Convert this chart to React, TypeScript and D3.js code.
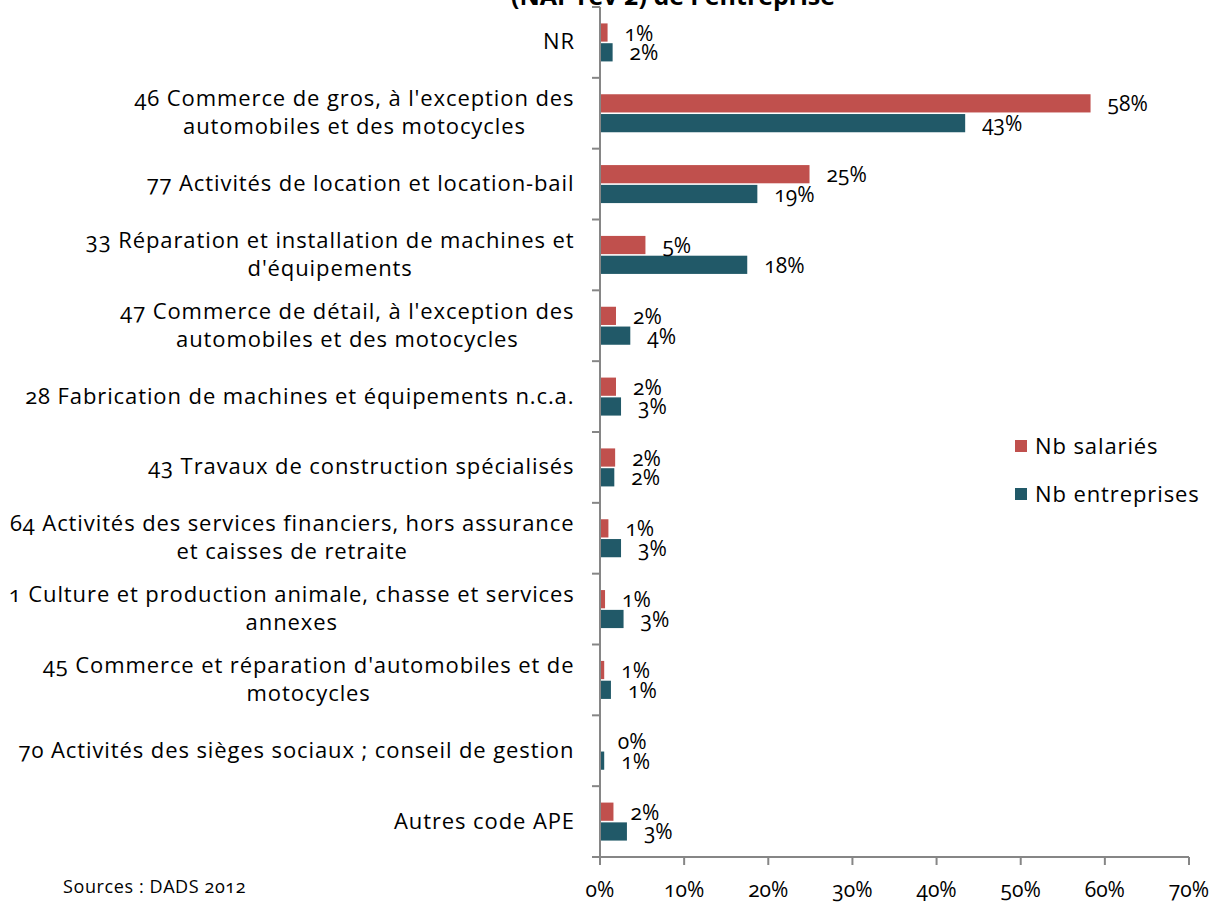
import * as d3 from 'd3';

const categories = [
  ['NR'],
  ["46 Commerce de gros, à l'exception des", 'automobiles et des motocycles'],
  ['77 Activités de location et location-bail'],
  ['33 Réparation et installation de machines et', "d'équipements"],
  ["47 Commerce de détail, à l'exception des", 'automobiles et des motocycles'],
  ['28 Fabrication de machines et équipements n.c.a.'],
  ['43 Travaux de construction spécialisés'],
  ['64 Activités des services financiers, hors assurance', 'et caisses de retraite'],
  ['1 Culture et production animale, chasse et services', 'annexes'],
  ["45 Commerce et réparation d'automobiles et de", 'motocycles'],
  ['70 Activités des sièges sociaux ; conseil de gestion'],
  ['Autres code APE'],
];
const salaries = [0.9, 58.3, 24.9, 5.4, 1.9, 1.9, 1.8, 1.0, 0.6, 0.5, 0.1, 1.6];
const entreprises = [1.5, 43.4, 18.7, 17.5, 3.6, 2.5, 1.7, 2.5, 2.8, 1.3, 0.5, 3.2];
const salariesLabels = ['1%', '58%', '25%', '5%', '2%', '2%', '2%', '1%', '1%', '1%', '0%', '2%'];
const entreprisesLabels = ['2%', '43%', '19%', '18%', '4%', '3%', '2%', '3%', '3%', '1%', '1%', '3%'];
const xTicks = [0, 10, 20, 30, 40, 50, 60, 70];
const seriesNames = ['Nb salariés', 'Nb entreprises'];

const RED = '#C0504D';
const TEAL = '#215968';
const AXIS = '#868686';
const FONT = '"Open Sans", sans-serif';
const LABEL_SIZE = 22;
const SPACING = 0.9;

const measureCtx = typeof document !== 'undefined' ? document.createElement('canvas').getContext('2d') : null;
function textWidth(s: string, size: number) {
  if (!measureCtx) return s.length * (size * 0.55 + SPACING);
  measureCtx.font = `${size}px "Open Sans"`;
  return measureCtx.measureText(s).width + s.length * SPACING;
}

export default function App() {
  const width = 1218;
  const height = 905;
  const left = 600;
  const right = 1189;
  const top = 7;
  const bottom = 857;

  const x = d3.scaleLinear().domain([0, 70]).range([left, right]);
  const idx = categories.map((_, i) => String(i));
  const y = d3.scaleBand().domain(idx).range([top, bottom]);
  const inner = d3.scaleBand().domain(['s', 'e']).range([0, 38]).paddingInner(0.08);
  const bw = inner.bandwidth();
  const groupOffset = (y.bandwidth() - 38) / 2;

  return (
    <div>
      <style>{'body{margin:0}'}</style>
      <svg width={width} height={height} style={{ display: 'block', fontFamily: FONT, fontVariantNumeric: 'oldstyle-nums' }}>
        <rect width={width} height={height} fill="#fff" />
        <text x={673} y={5} textAnchor="middle" fontSize={25} fontWeight="bold" fill="#000">
          (NAF rev 2) de l'entreprise
        </text>

        {categories.map((lines, i) => {
          const y0 = (y(String(i)) as number) + groupOffset;
          const cy = (y(String(i)) as number) + y.bandwidth() / 2;
          const maxW = d3.max(lines, (l) => textWidth(l, LABEL_SIZE)) as number;
          const cx = 575 - maxW / 2;
          const lh = 28;
          return (
            <g key={i}>
              <rect x={x(0)} y={y0 + (inner('s') as number)} width={x(salaries[i]) - x(0)} height={bw} fill={RED} />
              <rect x={x(0)} y={y0 + (inner('e') as number)} width={x(entreprises[i]) - x(0)} height={bw} fill={TEAL} />
              <text x={x(salaries[i]) + 17} y={y0 + (inner('s') as number) + bw / 2 + 8} fontSize={21} fill="#000">
                {salariesLabels[i]}
              </text>
              <text x={x(entreprises[i]) + 17} y={y0 + (inner('e') as number) + bw / 2 + 8} fontSize={21} fill="#000">
                {entreprisesLabels[i]}
              </text>
              {lines.map((l, j) => (
                <text
                  key={j}
                  x={cx}
                  y={cy + (j - (lines.length - 1) / 2) * lh + 7}
                  textAnchor="middle"
                  fontSize={LABEL_SIZE}
                  letterSpacing={SPACING}
                  fill="#000"
                >
                  {l}
                </text>
              ))}
            </g>
          );
        })}

        {/* y axis */}
        <line x1={left} x2={left} y1={top} y2={bottom} stroke={AXIS} strokeWidth={2} />
        {d3.range(categories.length + 1).map((i) => {
          const yy = i < categories.length ? (y(String(i)) as number) : bottom;
          return <line key={i} x1={left - 8} x2={left} y1={yy} y2={yy} stroke={AXIS} strokeWidth={2} />;
        })}

        {/* x axis */}
        <line x1={left - 8} x2={right} y1={bottom} y2={bottom} stroke={AXIS} strokeWidth={2} />
        {xTicks.map((t) => (
          <g key={t}>
            <line x1={x(t)} x2={x(t)} y1={bottom} y2={bottom + 8} stroke={AXIS} strokeWidth={2} />
            <text x={x(t)} y={bottom + 40} textAnchor="middle" fontSize={21} fill="#000">
              {t}%
            </text>
          </g>
        ))}

        {/* legend */}
        {seriesNames.map((n, i) => (
          <g key={n} transform={`translate(1015,${440 + i * 48})`}>
            <rect width={12} height={12} fill={i === 0 ? RED : TEAL} />
            <text x={20} y={14} fontSize={LABEL_SIZE} letterSpacing={SPACING} fill="#000">
              {n}
            </text>
          </g>
        ))}

        <text x={63} y={893} fontSize={18} letterSpacing={0.6} fill="#000">
          Sources : DADS 2012
        </text>
      </svg>
    </div>
  );
}
